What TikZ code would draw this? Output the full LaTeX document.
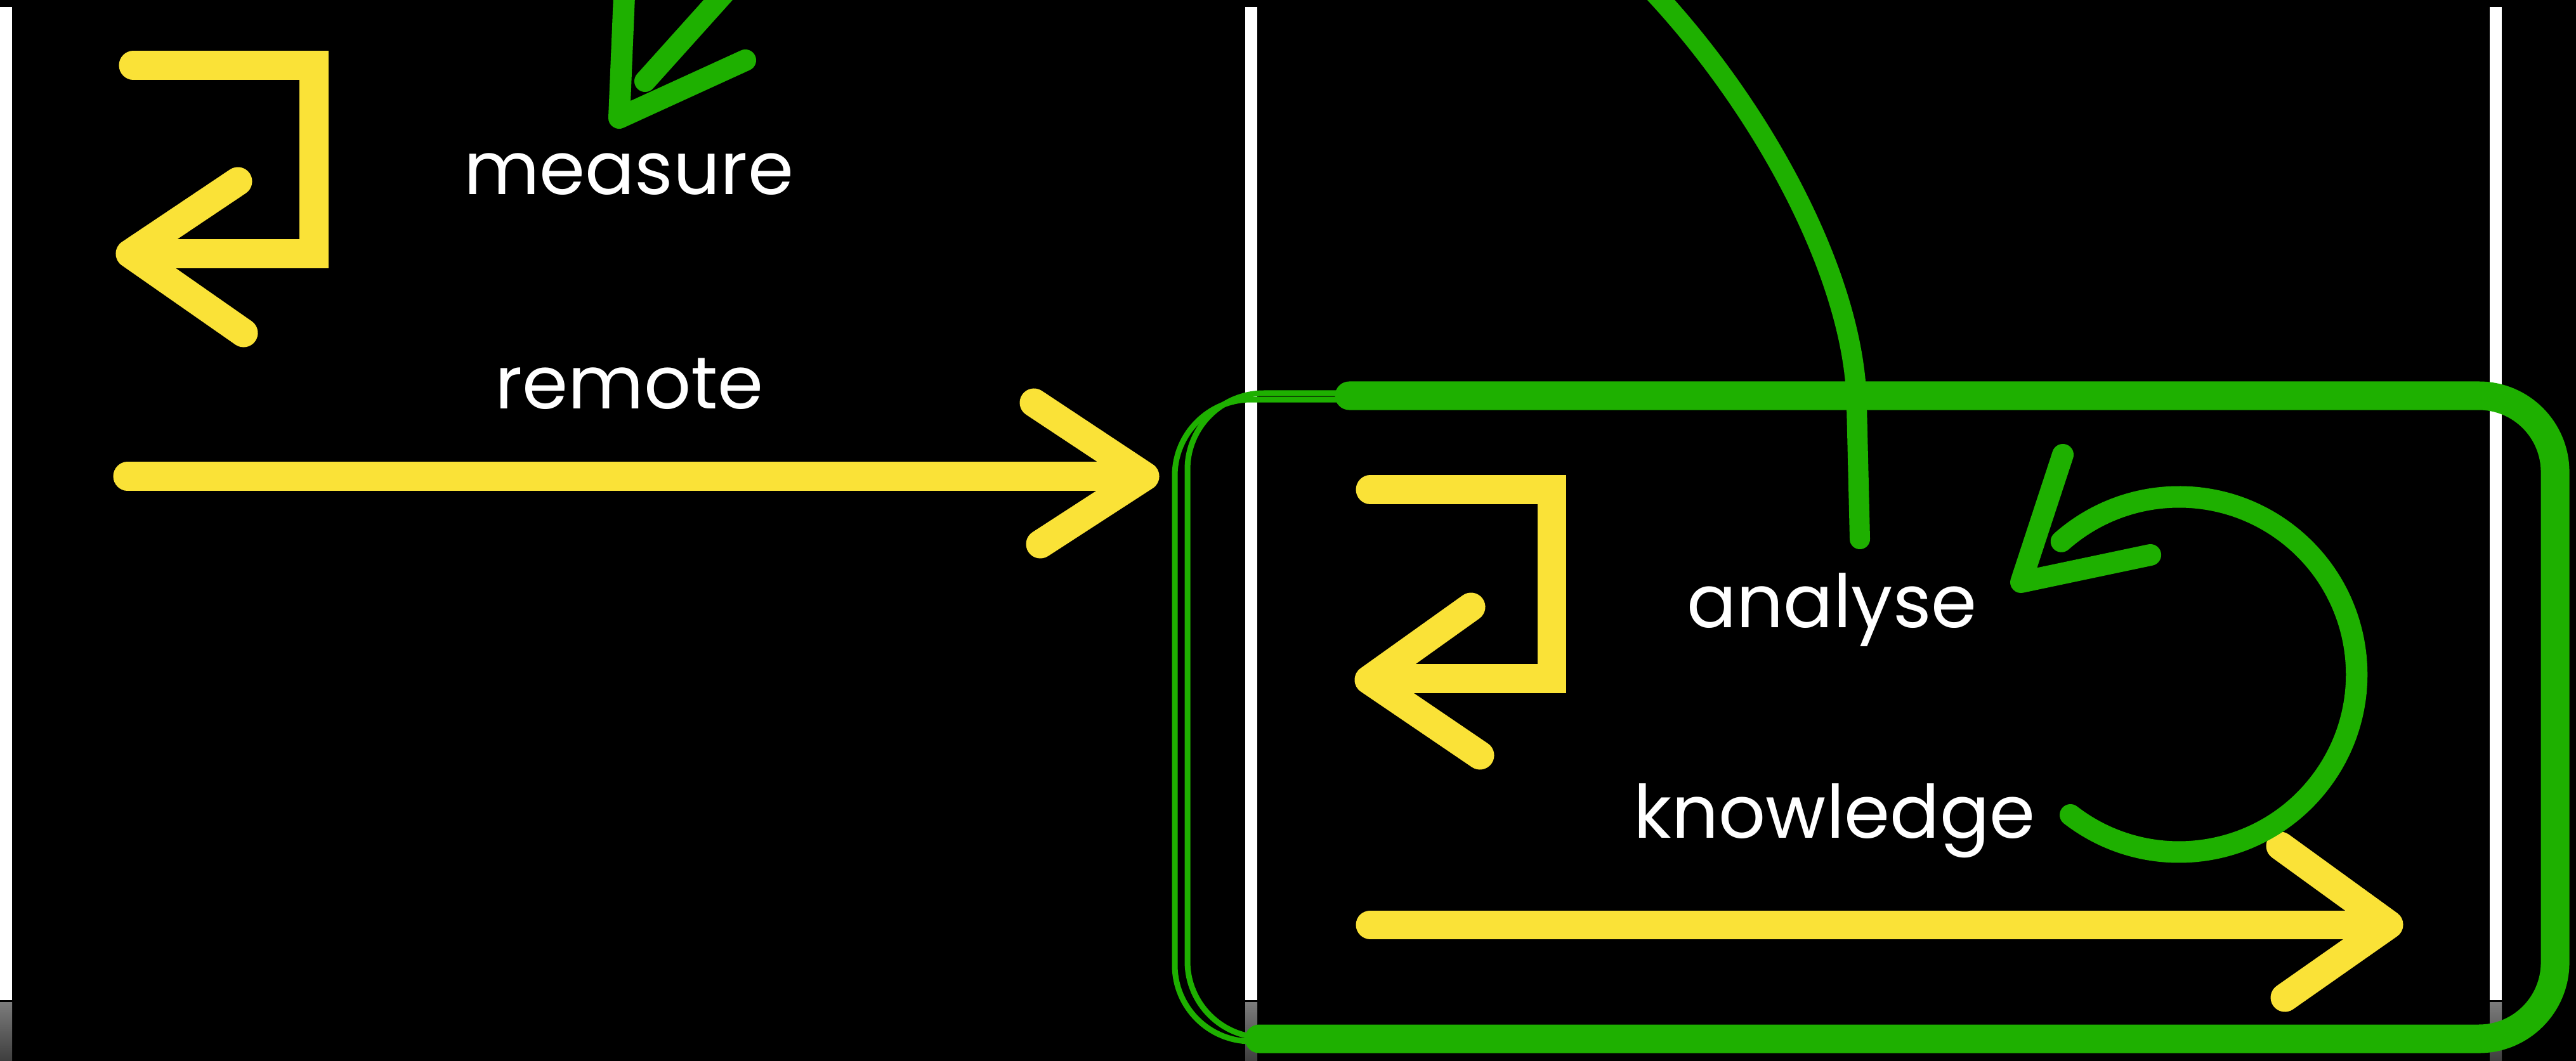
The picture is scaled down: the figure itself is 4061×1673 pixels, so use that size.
\documentclass[tikz,border=0pt]{standalone}
\usepackage{fontspec}
\setmainfont{Poppins}
\definecolor{chalkyellow}{RGB}{250,226,55}
\definecolor{chalkgreen}{RGB}{30,176,0}
\definecolor{railtop}{RGB}{124,124,124}
\definecolor{railbot}{RGB}{62,62,62}

\begin{document}
\begin{tikzpicture}[x=0.01cm, y=-0.01cm,
  yellowchalk/.style={draw=chalkyellow, line width=4.5mm, line cap=round, line join=round},
  greenchalk/.style={draw=chalkgreen, line width=3.4mm, line cap=round, line join=round},
  greenthin/.style={draw=chalkgreen, line width=0.9mm, rounded corners=1.2cm},
  word/.style={text=white, anchor=base, inner sep=0pt, font=\fontsize{33}{33}\selectfont}]
\useasboundingbox (0,0) rectangle (4061,1673);
\fill[black] (0,0) rectangle (4061,1673);
\clip (0,0) rectangle (4061,1673);
% dividers
\foreach \x in {0,1963,3925} {
  \fill[white] (\x,11) rectangle ++(19,1566);
  \shade[top color=railtop, bottom color=railbot] (\x,1580) rectangle ++(19,93);
}
% words
\draw (991,307) node[word](measure) {measure} ;
\draw (992,644) node[word](remote) {remote} ;
\draw (2888,989) node[word](analyse) {analyse} ;
\draw (2892,1321) node[word](knowledge) {knowledge} ;
% green box
\draw[greenthin] (1852,630) rectangle (4030,1642) ;
\draw[greenthin] (1872,620) rectangle (4024,1636) ;
\draw[greenchalk, line width=4.5mm, rounded corners=1.2cm] (2127,624) -- (4028,624) -- (4028,1638) -- (1985,1638) ;
% left panel
\draw[yellowchalk, line join=miter] (210,103) -- (495,103) -- (495,400) -- (262,400) ;
  \draw[yellowchalk] (375,286) -- (205,400) -- (384,525) ;
\draw[yellowchalk] (201,751) -- (1790,751) ;
  \draw[yellowchalk] (1630,635) -- (1805,751) -- (1640,858) ;
\draw[greenchalk] (985,-30) -- (976,186) -- (1175,95) ;
  \draw[greenchalk] (1017,128) -- (1150,-20) ;
% right panel
\draw[yellowchalk, line join=miter] (2160,772) -- (2446,772) -- (2446,1070) -- (2212,1070) ;
  \draw[yellowchalk] (2319,957) -- (2158,1072) -- (2333,1191) ;
\draw[yellowchalk] (2160,1458) -- (3750,1458) ;
  \draw[yellowchalk] (3595,1334) -- (3766,1458) -- (3602,1573) ;
\draw[greenchalk, line width=3.2mm] (2600,-20) .. controls (2780,170) and (2925,440) .. (2927,640) -- (2932,850) ;
\draw[greenchalk] (3264,1285) coordinate(loopstart) arc[start angle=127.7, end angle=-131.5, radius=280] coordinate(loopend) ;
  \draw[greenchalk] (3252,717) -- (3186,918) -- (3390,875) ;
\end{tikzpicture}
\end{document}
